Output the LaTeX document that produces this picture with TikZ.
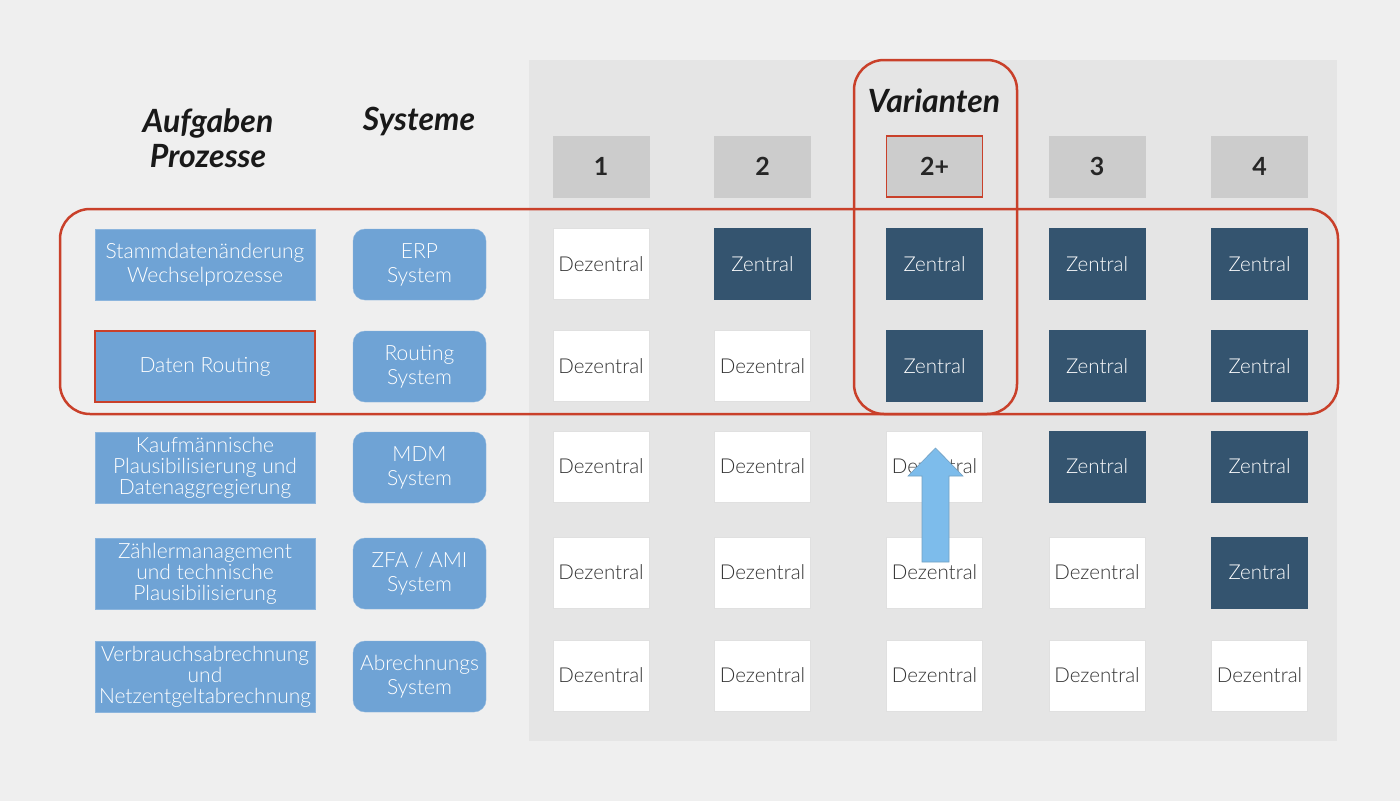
\documentclass[tikz,border=0pt]{standalone}
\usepackage{fontspec}
\IfFontExistsTF{Lato Light}{\newfontfamily\lightfont{Lato Light}}{\newfontfamily\lightfont{Lato}}
\newfontfamily\headfont{Lato}
\definecolor{bgc}{HTML}{EFEFEF}
\definecolor{panel}{HTML}{E5E5E5}
\definecolor{hdr}{HTML}{CCCCCC}
\definecolor{lblue}{HTML}{6FA3D5}
\definecolor{navy}{HTML}{34546F}
\definecolor{redc}{HTML}{C9402A}
\definecolor{arrowc}{HTML}{7DBCEB}
\definecolor{txt}{HTML}{333333}
\begin{document}
\begin{tikzpicture}[x=1pt,y=-1pt,
  task/.style={fill=lblue,draw=lblue!80!white,line width=0.8pt,minimum width=220pt,minimum height=71pt,inner sep=0pt,align=center,text=white,font=\lightfont\fontsize{21}{24}\selectfont},
  task3/.style={task,font=\lightfont\fontsize{21}{21}\selectfont},
  sys/.style={fill=lblue,draw=lblue!80!white,rounded corners=12pt,minimum width=133pt,minimum height=71pt,inner sep=0pt,align=center,text=white,font=\lightfont\fontsize{21}{24}\selectfont},
  dez/.style={fill=white,draw=black!12,line width=0.8pt,minimum width=96pt,minimum height=71pt,inner sep=0pt,text=txt,font=\lightfont\fontsize{20.5}{22}\selectfont},
  zen/.style={fill=navy,draw=navy,minimum width=96pt,minimum height=71pt,inner sep=0pt,text=white,font=\lightfont\fontsize{20.5}{22}\selectfont},
  hbox/.style={fill=hdr,draw=hdr,minimum width=96pt,minimum height=61pt,inner sep=0pt,text=black!85,font=\headfont\bfseries\fontsize{25}{26}\selectfont},
  htxt/.style={text=black!90,align=center,font=\headfont\bfseries\itshape\fontsize{32}{35}\selectfont},
  redframe/.style={draw=redc,line width=2.5pt,rounded corners=30pt}
]
\useasboundingbox (0,0) rectangle (1400,801);
\fill[bgc] (0,0) rectangle (1400,801);
\fill[panel] (529,60) rectangle (1337,741);

% headers
\node[htxt] (hA) at (208,138) {Aufgaben\\Prozesse};
\node[htxt] (hS) at (419,121) {Systeme};
\node[htxt] (hV) at (934,101) {Varianten};

\node[hbox] (c1) at (601,166.5) {1};
\node[hbox] (c2) at (762.5,166.5) {2};
\node[hbox,draw=redc,line width=1.5pt] (c2p) at (934.5,166.5) {2+};
\node[hbox] (c3) at (1097,166.5) {3};
\node[hbox] (c4) at (1259.5,166.5) {4};

% left columns
\node[task] (t1) at (205,264.5) {Stammdatenänderung\\Wechselprozesse};
\node[task,draw=redc,line width=1.5pt] (t2) at (205,366.5) {Daten Routing};
\node[task3] (t3) at (205,467.5) {Kaufmännische\\Plausibilisierung und\\Datenaggregierung};
\node[task3] (t4) at (205,573.5) {Zählermanagement\\und technische\\Plausibilisierung};
\node[task3] (t5) at (205,676.5) {Verbrauchsabrechnung\\und\\Netzentgeltabrechnung};

\node[sys] (s1) at (419.5,264.5) {ERP\\System};
\node[sys] (s2) at (419.5,366.5) {Routing\\System};
\node[sys] (s3) at (419.5,467.5) {MDM\\System};
\node[sys] (s4) at (419.5,573.5) {ZFA / AMI\\System};
\node[sys] (s5) at (419.5,676.5) {Abrechnungs\\System};

% row 1
\node[dez] (r1a) at (601,264) {Dezentral};
\node[zen] (r1b) at (762.5,264) {Zentral};
\node[zen] (r1c) at (934.5,264) {Zentral};
\node[zen] (r1d) at (1097,264) {Zentral};
\node[zen] (r1e) at (1259.5,264) {Zentral};
% row 2
\node[dez] (r2a) at (601,366) {Dezentral};
\node[dez] (r2b) at (762.5,366) {Dezentral};
\node[zen] (r2c) at (934.5,366) {Zentral};
\node[zen] (r2d) at (1097,366) {Zentral};
\node[zen] (r2e) at (1259.5,366) {Zentral};
% row 3
\node[dez] (r3a) at (601,466.5) {Dezentral};
\node[dez] (r3b) at (762.5,466.5) {Dezentral};
\node[dez] (r3c) at (934.5,466.5) {Dezentral};
\node[zen] (r3d) at (1097,466.5) {Zentral};
\node[zen] (r3e) at (1259.5,466.5) {Zentral};
% row 4
\node[dez] (r4a) at (601,572.5) {Dezentral};
\node[dez] (r4b) at (762.5,572.5) {Dezentral};
\node[dez] (r4c) at (934.5,572.5) {Dezentral};
\node[dez] (r4d) at (1097,572.5) {Dezentral};
\node[zen] (r4e) at (1259.5,572.5) {Zentral};
% row 5
\node[dez] (r5a) at (601,675.5) {Dezentral};
\node[dez] (r5b) at (762.5,675.5) {Dezentral};
\node[dez] (r5c) at (934.5,675.5) {Dezentral};
\node[dez] (r5d) at (1097,675.5) {Dezentral};
\node[dez] (r5e) at (1259.5,675.5) {Dezentral};

% red frames
\draw[redframe] (60,209) rectangle (1338,414);
\draw[redframe] (854,60) rectangle (1017,414);

% arrow
\draw[fill=arrowc,draw=arrowc!80!black!90,line width=0.6pt]
  (922,562) -- (922,476) -- (908,476) -- (935.5,448) -- (963,476) -- (949,476) -- (949,562) -- cycle;
\end{tikzpicture}
\end{document}
